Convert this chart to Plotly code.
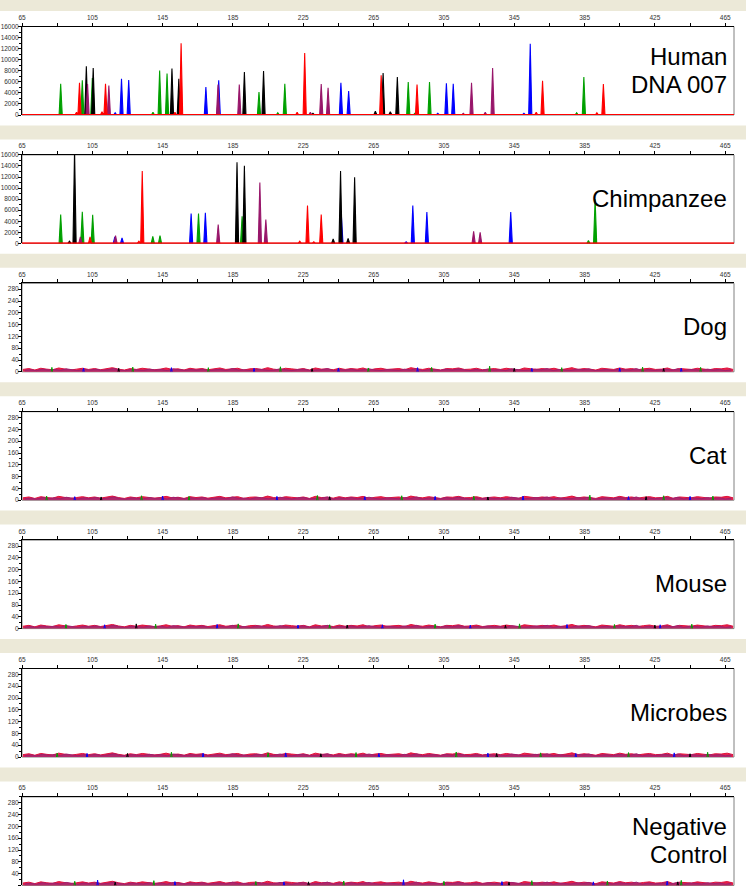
import plotly.graph_objects as go
import numpy as np

# ---------------- data ----------------
PANEL_LABELS = [["Human", "DNA 007"], ["Chimpanzee"], ["Dog"], ["Cat"], ["Mouse"], ["Microbes"], ["Negative", "Control"]]

X_TICKS = [65, 105, 145, 185, 225, 265, 305, 345, 385, 425, 465]
X_TICK_LABELS = ["65", "105", "145", "185", "225", "265", "305", "345", "385", "425", "465"]

Y_TICKS_HIGH = [0, 2000, 4000, 6000, 8000, 10000, 12000, 14000, 16000]
Y_TICK_LABELS_HIGH = ["0", "2000", "4000", "6000", "8000", "10000", "12000", "14000", "16000"]
Y_TICKS_LOW = [0, 40, 80, 120, 160, 200, 240, 280]
Y_TICK_LABELS_LOW = ["0", "40", "80", "120", "160", "200", "240", "280"]

# peaks: (size in bp, height in RFU)
HUMAN_GREEN = [(87.0, 5650), (99.3, 6260), (105.0, 6700), (139.5, 500), (143.3, 8030), (147.5, 7480),
               (199.8, 4130), (210.5, 400), (214.5, 5650), (284.7, 5960), (288.5, 300), (296.8, 5960),
               (380.5, 400), (384.6, 6870)]
HUMAN_RED = [(96.0, 500), (97.7, 5840), (110.5, 600), (112.5, 5650), (152.0, 500), (155.5, 12950),
             (221.5, 500), (225.8, 11190), (269.3, 7170), (289.7, 5530), (357.5, 500), (361.1, 6200),
             (392.0, 400), (395.7, 5590)]
HUMAN_BLACK = [(101.6, 8800), (105.5, 8500), (150.3, 8400), (154.2, 6560), (191.5, 7780), (202.4, 7960),
               (230.5, 300), (266.0, 700), (270.4, 7600), (274.5, 600), (278.5, 6870)]
HUMAN_BLUE = [(118.0, 400), (121.6, 6560), (125.7, 6320), (169.6, 5050), (176.9, 6260), (246.4, 5840),
              (250.8, 4320), (301.5, 300), (306.4, 5720), (310.3, 5650), (350.5, 300), (354.1, 12890)]
HUMAN_PURPLE = [(102.3, 5600), (114.4, 5350), (176.5, 5500), (188.6, 5530), (229.0, 500), (235.2, 5590),
                (239.1, 4920), (316.0, 300), (320.7, 5840), (328.5, 500), (332.7, 8510)]

CHIMP_GREEN = [(87.0, 5230), (99.3, 5710), (105.2, 5170), (139.4, 1280), (143.5, 1400), (165.4, 5410),
               (190.2, 4920), (387.2, 500), (391.0, 7960)]
CHIMP_RED = [(103.7, 1160), (131.5, 400), (133.4, 13070), (223.0, 400), (227.4, 6870), (231.0, 300),
             (235.2, 5230)]
CHIMP_BLACK = [(92.0, 400), (94.9, 17000), (187.3, 14650), (191.5, 14040), (242.0, 800), (246.2, 13070),
               (250.5, 900), (254.2, 11980)]
CHIMP_BLUE = [(117.8, 1200), (121.9, 970), (161.2, 5410), (169.3, 5530), (246.7, 4920), (283.5, 300),
              (287.3, 6870), (295.3, 5650), (343.0, 5650)]
CHIMP_PURPLE = [(98.2, 1160), (118.2, 1400), (176.6, 3400), (200.3, 11000), (203.7, 4320), (321.9, 2190),
                (325.6, 2000)]

# baseline noise for the blank samples (RFU) from left to right
NOISE_RED = [8, 11, 6, 12, 9, 7, 13, 10, 6, 9, 12, 8, 11, 7, 10, 14, 9, 6, 11, 8, 12, 10, 7, 9, 13, 8, 10, 6,
             12, 9, 11, 7, 10, 13, 8, 9, 12, 6, 10, 11, 8, 14, 9, 7, 12, 10, 8, 11, 6, 13, 9, 10, 7, 12, 8, 11,
             9, 13, 6, 10, 12, 8, 9, 11, 7, 14, 10, 8, 12, 9, 6, 11, 10, 13, 8, 9, 12, 7, 10, 11, 8, 12, 9, 6,
             13, 10, 8, 11, 9, 12, 7, 10, 14, 8, 11, 9, 6, 12, 10, 8, 13, 9, 11, 7, 10, 12, 8, 9, 13, 6, 11, 10,
             8, 12, 9, 7, 11, 10, 13, 8]
NOISE_PURPLE = [5, 7, 4, 9, 6, 8, 5, 10, 7, 4, 8, 6, 9, 5, 7, 11, 6, 4, 8, 7, 5, 9, 6, 8, 4, 10, 7, 5, 8, 6,
                9, 4, 7, 8, 5, 11, 6, 7, 4, 9, 8, 5, 6, 10, 7, 4, 8, 9, 5, 6, 7, 11, 4, 8, 6, 9, 5, 7, 10, 6,
                4, 8, 7, 5, 9, 6, 11, 4, 7, 8, 5, 9, 6, 10, 7, 4, 8, 5, 9, 6, 7, 4, 10, 8, 5, 6, 9, 7, 11, 4,
                8, 6, 5, 9, 7, 10, 4, 6, 8, 5, 9, 7, 6, 11, 4, 8, 5, 7, 9, 6, 10, 4, 8, 7, 5, 9, 6, 8, 4, 7]
# isolated noise specks above the band: (bp, RFU)
SPECKS_GREEN = [[(82, 15), (128, 16), (171, 14), (212, 17), (262, 13), (298, 15), (331, 19), (372, 14), (418, 16), (451, 15)],
                [(79, 14), (133, 15), (160, 13), (233, 16), (281, 15), (322, 14), (388, 17), (430, 15), (458, 14)],
                [(90, 14), (141, 15), (188, 16), (240, 13), (300, 15), (348, 16), (402, 14), (446, 15)],
                [(85, 13), (150, 16), (205, 14), (255, 15), (312, 17), (360, 14), (410, 15), (455, 16)],
                [(95, 14), (140, 16), (198, 13), (248, 15), (305, 14), (355, 16), (398, 15), (440, 17)]]
SPECKS_BLUE = [[(100, 13), (150, 14), (197, 12), (245, 13), (290, 14), (355, 12), (405, 13), (440, 12)],
               [(95, 12), (145, 14), (210, 13), (260, 12), (300, 13), (350, 14), (410, 12), (445, 13)],
               [(112, 13), (176, 14), (222, 12), (270, 13), (320, 12), (375, 14), (428, 13)],
               [(102, 12), (168, 13), (215, 14), (268, 12), (330, 13), (380, 12), (436, 14)],
               [(108, 18), (152, 13), (214, 12), (282, 19), (338, 13), (390, 12), (432, 14)]]
SPECKS_BLACK = [[(120, 12), (230, 11), (345, 12), (430, 11)],
                [(110, 11), (240, 12), (330, 11), (420, 12)],
                [(130, 16), (250, 12), (340, 11), (425, 12)],
                [(125, 12), (235, 11), (335, 12), (445, 11)],
                [(118, 11), (228, 12), (342, 11), (438, 12)]]

# ---------------- styling ----------------
COL = {"green": "#00A000", "red": "#FF0000", "black": "#000000", "blue": "#0000FF", "purple": "#98166A"}
W, H = 746, 888
X_RANGE = [65, 470]
PLOT_LEFT, PLOT_RIGHT = 22, 734
PANEL_TOP0, PANEL_STEP, PANEL_H = 26.5, 128.4, 88.5
HALF_W = 0.9  # half base width of a drawn peak, bp
FONT = "Liberation Sans, Arial, sans-serif"


def peak_xy(peaks, baseline=False):
    xs, ys = [], []
    if baseline:
        xs.append(X_RANGE[0]); ys.append(0)
        for p, h in sorted(peaks):
            xs += [p - HALF_W, p, p + HALF_W]
            ys += [0, h, 0]
        xs.append(X_RANGE[1]); ys.append(0)
    else:
        for p, h in sorted(peaks):
            xs += [p - HALF_W, p, p + HALF_W, None]
            ys += [0, h, 0, None]
    return xs, ys


fig = go.Figure()
shapes, annotations = [], []

for i in range(7):
    xa = "x" if i == 0 else f"x{i+1}"
    ya = "y" if i == 0 else f"y{i+1}"
    top = PANEL_TOP0 + i * PANEL_STEP
    bottom = top + PANEL_H
    dom = [1 - bottom / H, 1 - top / H]
    high = i < 2

    if i == 0:
        series = [("green", HUMAN_GREEN), ("blue", HUMAN_BLUE), ("black", HUMAN_BLACK),
                  ("purple", HUMAN_PURPLE), ("red", HUMAN_RED)]
    elif i == 1:
        series = [("green", CHIMP_GREEN), ("blue", CHIMP_BLUE), ("black", CHIMP_BLACK),
                  ("purple", CHIMP_PURPLE), ("red", CHIMP_RED)]
    else:
        series = None

    if series:
        for cname, pk in series:
            xs, ys = peak_xy(pk, baseline=(cname == "red"))
            fig.add_trace(go.Scatter(x=xs, y=ys, mode="lines", xaxis=xa, yaxis=ya,
                                     line=dict(color=COL[cname], width=1.1),
                                     fill="tozeroy" if cname == "red" else "toself",
                                     fillcolor=COL[cname], hoverinfo="skip", showlegend=False))
        fig.add_trace(go.Scatter(x=X_RANGE, y=[0, 0], mode="lines", xaxis=xa, yaxis=ya,
                                 line=dict(color=COL["red"], width=2), hoverinfo="skip", showlegend=False))
    else:
        k = i - 2
        nx = np.linspace(X_RANGE[0] + 0.5, X_RANGE[1] - 0.5, len(NOISE_RED))
        fig.add_trace(go.Scatter(x=nx, y=NOISE_RED, mode="lines", xaxis=xa, yaxis=ya,
                                 line=dict(color="#E0103A", width=1), fill="tozeroy", fillcolor="#E8224A",
                                 hoverinfo="skip", showlegend=False))
        nx2 = np.linspace(X_RANGE[0] + 1.5, X_RANGE[1] - 1.5, len(NOISE_PURPLE))
        fig.add_trace(go.Scatter(x=nx2, y=NOISE_PURPLE, mode="lines", xaxis=xa, yaxis=ya,
                                 line=dict(color="#A0206E", width=1), fill="tozeroy", fillcolor="#B0286A",
                                 hoverinfo="skip", showlegend=False))
        for cname, sp in (("green", SPECKS_GREEN[k]), ("blue", SPECKS_BLUE[k]), ("black", SPECKS_BLACK[k])):
            xs, ys = [], []
            for p, h in sp:
                xs += [p - 0.4, p, p + 0.4, None]
                ys += [0, h, 0, None]
            fig.add_trace(go.Scatter(x=xs, y=ys, mode="lines", xaxis=xa, yaxis=ya,
                                     line=dict(color=COL[cname], width=1), hoverinfo="skip", showlegend=False))

    fig.update_layout(**{
        ("xaxis" if i == 0 else f"xaxis{i+1}"): dict(
            domain=[PLOT_LEFT / W, PLOT_RIGHT / W], range=X_RANGE, side="top", anchor=ya,
            tickvals=X_TICKS, ticktext=X_TICK_LABELS, ticks="outside", ticklen=3, tickcolor="#000",
            tickfont=dict(size=6.5, color="#333", family=FONT), showgrid=False, zeroline=False,
            showline=True, linecolor="#000", linewidth=1,
            minor=dict(tickvals=[v + 20 for v in X_TICKS[:-1]], ticks="outside", ticklen=3, tickcolor="#000"),
            fixedrange=True, automargin=False),
        ("yaxis" if i == 0 else f"yaxis{i+1}"): dict(
            domain=dom, range=[0, 16000] if high else [0, 300], anchor=xa,
            tickvals=Y_TICKS_HIGH if high else Y_TICKS_LOW,
            ticktext=Y_TICK_LABELS_HIGH if high else Y_TICK_LABELS_LOW,
            ticks="outside", ticklen=3, tickcolor="#000", ticklabelstandoff=-2,
            tickfont=dict(size=6.5, color="#333", family=FONT), showgrid=False, zeroline=False,
            showline=True, linecolor="#000", linewidth=1,
            minor=dict(dtick=1000 if high else 20, ticks="outside", ticklen=2, tickcolor="#000"),
            fixedrange=True, automargin=False),
    })

    # beige header band
    shapes.append(dict(type="rect", xref="paper", yref="paper", x0=0, x1=1,
                       y0=1 - (top - 15.5) / H, y1=1 - (top - 29.5) / H,
                       fillcolor="#ECE9D8", line=dict(width=0), layer="below"))
    # frame
    shapes.append(dict(type="rect", xref="paper", yref="paper", x0=PLOT_LEFT / W, x1=PLOT_RIGHT / W,
                       y0=dom[0], y1=dom[1], line=dict(color="#808080", width=1), fillcolor="rgba(0,0,0,0)",
                       layer="below"))

    lines = PANEL_LABELS[i]
    if len(lines) == 1:
        centers = [top + 43.5]
    else:
        centers = [top + 30, top + 58]
    for txt, cy in zip(lines, centers):
        annotations.append(dict(text=txt, xref="paper", yref="paper", x=729 / W, y=1 - cy / H,
                                xanchor="right", yanchor="middle", showarrow=False,
                                font=dict(size=24, color="#000", family=FONT)))

fig.update_layout(width=W, height=H, margin=dict(l=0, r=0, t=0, b=0),
                  paper_bgcolor="white", plot_bgcolor="white",
                  shapes=shapes, annotations=annotations, showlegend=False)

fig.write_html("out.html", config={"displayModeBar": False},
               post_script="document.body.style.margin='0';document.body.style.overflow='hidden';")
